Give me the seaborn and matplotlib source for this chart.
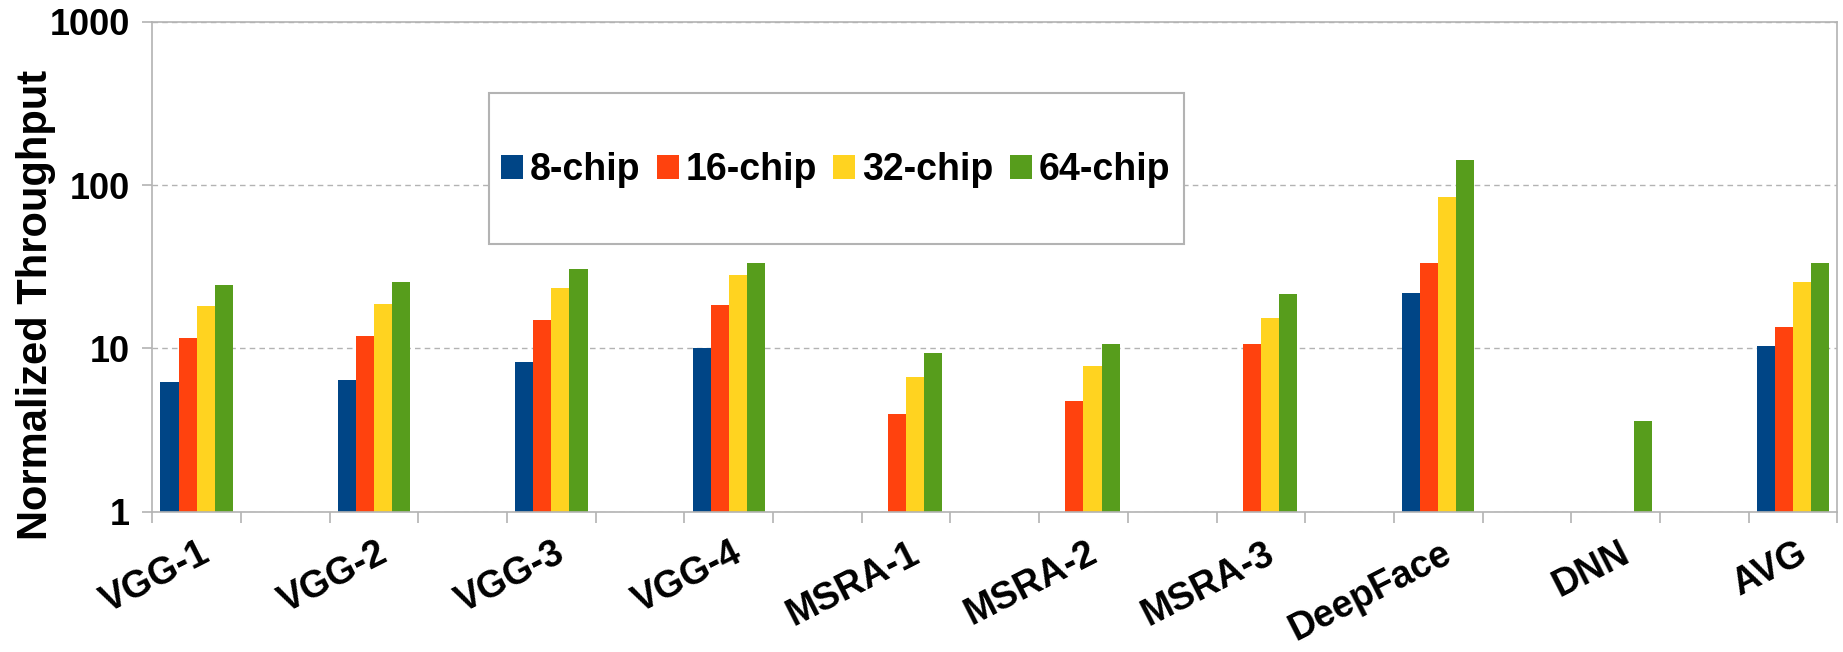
import numpy as np
import pandas as pd
import matplotlib
matplotlib.use("Agg")
import matplotlib.pyplot as plt
from matplotlib.patches import Rectangle
from matplotlib.ticker import FixedLocator, NullFormatter, FixedFormatter
import matplotlib.transforms as mtransforms
import seaborn as sns

nan = np.nan
categories = ["VGG-1", "VGG-2", "VGG-3", "VGG-4", "MSRA-1", "MSRA-2",
              "MSRA-3", "DeepFace", "DNN", "AVG"]
series_names = ["8-chip", "16-chip", "32-chip", "64-chip"]
chip_8 = [6.2, 6.4, 8.2, 10.1, nan, nan, nan, 21.7, nan, 10.4]
chip_16 = [11.6, 11.9, 14.9, 18.5, 3.96, 4.75, 10.6, 33.4, nan, 13.6]
chip_32 = [18.2, 18.8, 23.4, 28.0, 6.64, 7.82, 15.4, 84.9, nan, 25.5]
chip_64 = [24.6, 25.5, 30.6, 33.4, 9.32, 10.6, 21.4, 143.0, 3.61, 33.4]
y_ticks = [1, 10, 100, 1000]
y_tick_labels = ["1", "10", "100", "1000"]
colors = ["#004586", "#ff420e", "#ffd320", "#579d1c"]

# each category occupies every other slot (blank slot in between)
slot = [2 * i for i in range(len(categories))]
rows = []
for name, vals in zip(series_names, [chip_8, chip_16, chip_32, chip_64]):
    for s, c, v in zip(slot, categories, vals):
        rows.append({"pos": s, "cat": c, "series": name, "value": v})
df = pd.DataFrame(rows).dropna()

sns.set_theme(style="white")
plt.rcParams["font.family"] = ["Liberation Sans", "DejaVu Sans"]
plt.rcParams["font.weight"] = "bold"
plt.rcParams["text.color"] = "black"
plt.rcParams["axes.labelcolor"] = "black"
plt.rcParams["xtick.labelcolor"] = "black"
plt.rcParams["ytick.labelcolor"] = "black"

W, H = 1843, 652
fig = plt.figure(figsize=(W / 100, H / 100), dpi=100)
L, R, T, B = 152.3, 1837.3, 21.7, 511.7
ax = fig.add_axes([L / W, 1 - B / H, (R - L) / W, (B - T) / H])

sns.barplot(data=df, x="pos", y="value", hue="series", hue_order=series_names,
            palette=colors, native_scale=True, width=0.408, linewidth=0,
            saturation=1, ax=ax, legend=True)

ax.set_yscale("log")
ax.set_ylim(1, 1000)
ax.set_xlim(-0.5, 2 * len(categories) - 1.5)

gc = "#b3b3b3"
for sp in ax.spines.values():
    sp.set_color(gc)
    sp.set_linewidth(1.2)
    sp.set_visible(True)

ax.yaxis.set_major_locator(FixedLocator(y_ticks))
ax.yaxis.set_major_formatter(FixedFormatter(y_tick_labels))
ax.yaxis.set_minor_locator(FixedLocator([]))
ax.tick_params(axis="y", which="major", direction="out", length=7.5, width=1.2,
               color=gc, labelcolor="black", pad=8.4, labelsize=26, left=True)
ax.grid(axis="y", which="major", color=gc, linestyle=(0, (4, 3)), linewidth=1.0)
ax.set_axisbelow(True)

# x: boundary ticks (major) and label ticks (minor)
nslots = 2 * len(categories) - 1
ax.xaxis.set_major_locator(FixedLocator([i - 0.5 for i in range(nslots + 1)]))
ax.xaxis.set_major_formatter(NullFormatter())
ax.xaxis.set_minor_locator(FixedLocator(slot))
ax.xaxis.set_minor_formatter(FixedFormatter(categories))
ax.tick_params(axis="x", which="major", direction="out", length=8, width=1.2,
               color=gc, bottom=True)
ax.tick_params(axis="x", which="minor", length=0, pad=17, labelsize=27,
               labelcolor="black", bottom=True)
offset = mtransforms.ScaledTranslation(3 / 100, 0, fig.dpi_scale_trans)
for lab in ax.xaxis.get_minorticklabels():
    lab.set_rotation(27)
    lab.set_ha("right")
    lab.set_va("top")
    lab.set_rotation_mode("anchor")
    lab.set_fontweight("bold")
    lab.set_transform(lab.get_transform() + offset)
for lab in ax.yaxis.get_majorticklabels():
    lab.set_fontweight("bold")

ax.set_xlabel("")
ax.set_ylabel("Normalized Throughput", fontsize=30, fontweight="bold",
              va="baseline", color="black")
ax.yaxis.set_label_coords((46.7 - L) / (R - L), (B - 304.5) / (B - T))

# legend
handles, labels = ax.get_legend_handles_labels()
ax.get_legend().remove()
fig.patches.append(Rectangle((489 / W, 1 - 244 / H), (1184 - 489) / W, (244 - 93) / H,
                             transform=fig.transFigure, facecolor="white",
                             edgecolor=gc, linewidth=1.5, zorder=1))
leg = fig.legend(handles, labels, loc="center", bbox_to_anchor=(835.5 / W, 1 - 170 / H),
                 ncol=4, frameon=False, prop={"size": 27, "weight": "bold"},
                 handlelength=0.59, handleheight=0.6, handletextpad=0.18,
                 columnspacing=0.44, borderpad=0.2, labelcolor="black")
leg.set_zorder(5)

fig.savefig("out.png", dpi=100)
